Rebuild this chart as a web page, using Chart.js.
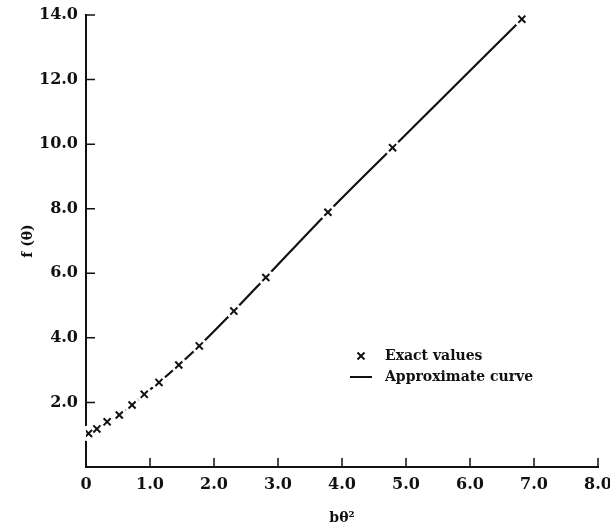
<!DOCTYPE html>
<html>
<head>
<meta charset="utf-8">
<title>f(θ) against bθ²</title>
<script src="https://cdn.jsdelivr.net/npm/chart.js@4/dist/chart.umd.min.js"></script>
<style>
  html, body { margin: 0; padding: 0; background: #fff; }
  #wrap { width: 610px; height: 530px; }
</style>
</head>
<body>
<div id="wrap"><canvas id="f-chart" width="610" height="530"></canvas></div>
<script>
// bθ² and the exact f(θ) there; the approximate curve runs through the same points
const bTheta2 = [0.04, 0.17, 0.33, 0.52, 0.72, 0.91, 1.14, 1.45, 1.77, 2.31, 2.81, 3.78, 4.79, 6.81];
const fTheta = [1.04, 1.18, 1.40, 1.61, 1.92, 2.25, 2.62, 3.16, 3.75, 4.83, 5.87, 7.89, 9.89, 13.87];
const xTicks = [0, 1, 2, 3, 4, 5, 6, 7, 8];
const yTicks = [0, 2, 4, 6, 8, 10, 12, 14];
const legendLabels = ['Exact values', 'Approximate curve'];

(() => {
    const ink = '#111';
    const serif = 'DejaVu Serif';
    const points = bTheta2.map((x, i) => ({ x: x, y: fTheta[i] }));

    // white disc under each cross so the curve breaks around the markers
    const markerGaps = {
        id: 'markerGaps',
        beforeDatasetDraw(chart, args) {
            if (args.index !== 0) return;
            const ctx = chart.ctx;
            ctx.save();
            ctx.fillStyle = '#fff';
            args.meta.data.forEach(el => {
                ctx.beginPath();
                ctx.arc(el.x, el.y, 8, 0, Math.PI * 2);
                ctx.fill();
            });
            ctx.restore();
        }
    };

    // short tick marks pointing into the plot
    const innerTicks = {
        id: 'innerTicks',
        afterDraw(chart) {
            const ctx = chart.ctx;
            const xs = chart.scales.x, ys = chart.scales.y;
            const area = chart.chartArea;
            ctx.save();
            ctx.strokeStyle = ink;
            ctx.lineWidth = 1.5;
            ctx.beginPath();
            xTicks.forEach(v => {
                if (v === 0) return;
                const px = xs.getPixelForValue(v);
                ctx.moveTo(px, area.bottom);
                ctx.lineTo(px, area.bottom - 9);
            });
            yTicks.forEach(v => {
                if (v === 0) return;
                const py = ys.getPixelForValue(v);
                ctx.moveTo(area.left, py);
                ctx.lineTo(area.left + 9, py);
            });
            ctx.stroke();
            ctx.restore();
        }
    };

    // key placed inside the plot, lower right of the curve
    const keyBox = {
        id: 'keyBox',
        afterDraw(chart) {
            const ctx = chart.ctx;
            const area = chart.chartArea;
            const mx = area.left + 275, tx = area.left + 299;
            const y1 = area.top + 341, y2 = area.top + 362;
            ctx.save();
            ctx.strokeStyle = ink;
            ctx.lineWidth = 2;
            ctx.beginPath();
            ctx.moveTo(mx - 3.5, y1 - 3.5); ctx.lineTo(mx + 3.5, y1 + 3.5);
            ctx.moveTo(mx + 3.5, y1 - 3.5); ctx.lineTo(mx - 3.5, y1 + 3.5);
            ctx.stroke();
            ctx.beginPath();
            ctx.moveTo(mx - 11, y2); ctx.lineTo(mx + 11, y2);
            ctx.stroke();
            ctx.fillStyle = ink;
            ctx.font = 'bold 14px "' + serif + '"';
            ctx.textBaseline = 'middle';
            ctx.fillText(legendLabels[0], tx, y1);
            ctx.fillText(legendLabels[1], tx, y2);
            ctx.restore();
        }
    };

    const ctx = document.getElementById('f-chart').getContext('2d');
    new Chart(ctx, {
        type: 'scatter',
        data: {
            datasets: [{
                label: legendLabels[0],
                data: points,
                order: 0,
                showLine: false,
                pointStyle: 'crossRot',
                pointRadius: 5,
                pointBorderWidth: 2,
                pointBorderColor: ink,
                pointBackgroundColor: ink
            }, {
                label: legendLabels[1],
                data: points,
                order: 1,
                showLine: true,
                borderColor: ink,
                borderWidth: 2.2,
                pointRadius: 0,
                cubicInterpolationMode: 'monotone'
            }]
        },
        options: {
            responsive: false,
            animation: false,
            events: [],
            layout: { padding: { left: 0, top: 15, right: 12, bottom: 0 } },
            plugins: {
                legend: { display: false },
                tooltip: { enabled: false }
            },
            scales: {
                x: {
                    type: 'linear',
                    min: 0,
                    max: 8,
                    afterBuildTicks: s => { s.ticks = xTicks.map(v => ({ value: v })); },
                    afterFit: s => { s.height = 63; s.paddingLeft = 0; s.paddingRight = 0; },
                    grid: { display: false, drawTicks: false },
                    border: { display: true, color: ink, width: 2 },
                    ticks: {
                        padding: 8,
                        color: ink,
                        maxRotation: 0,
                        font: { family: serif, size: 16, weight: 'bold' },
                        callback: v => v === 0 ? '0' : v.toFixed(1)
                    },
                    title: {
                        display: true,
                        text: 'bθ²',
                        color: ink,
                        font: { family: serif, size: 14, weight: 'bold' },
                        padding: { top: 0, bottom: 3 }
                    }
                },
                y: {
                    type: 'linear',
                    min: 0,
                    max: 14,
                    afterBuildTicks: s => { s.ticks = yTicks.map(v => ({ value: v })); },
                    afterFit: s => { s.width = 86; s.paddingTop = 0; s.paddingBottom = 0; },
                    grid: { display: false, drawTicks: false },
                    border: { display: true, color: ink, width: 2 },
                    ticks: {
                        padding: 8,
                        color: ink,
                        font: { family: serif, size: 16, weight: 'bold' },
                        callback: v => v === 0 ? '' : v.toFixed(1)
                    },
                    title: {
                        display: true,
                        text: 'f (θ)',
                        color: ink,
                        font: { family: serif, size: 14, weight: 'bold' },
                        padding: { top: 20, bottom: 0 }
                    }
                }
            }
        },
        plugins: [markerGaps, innerTicks, keyBox]
    });
})();
</script>
</body>
</html>
